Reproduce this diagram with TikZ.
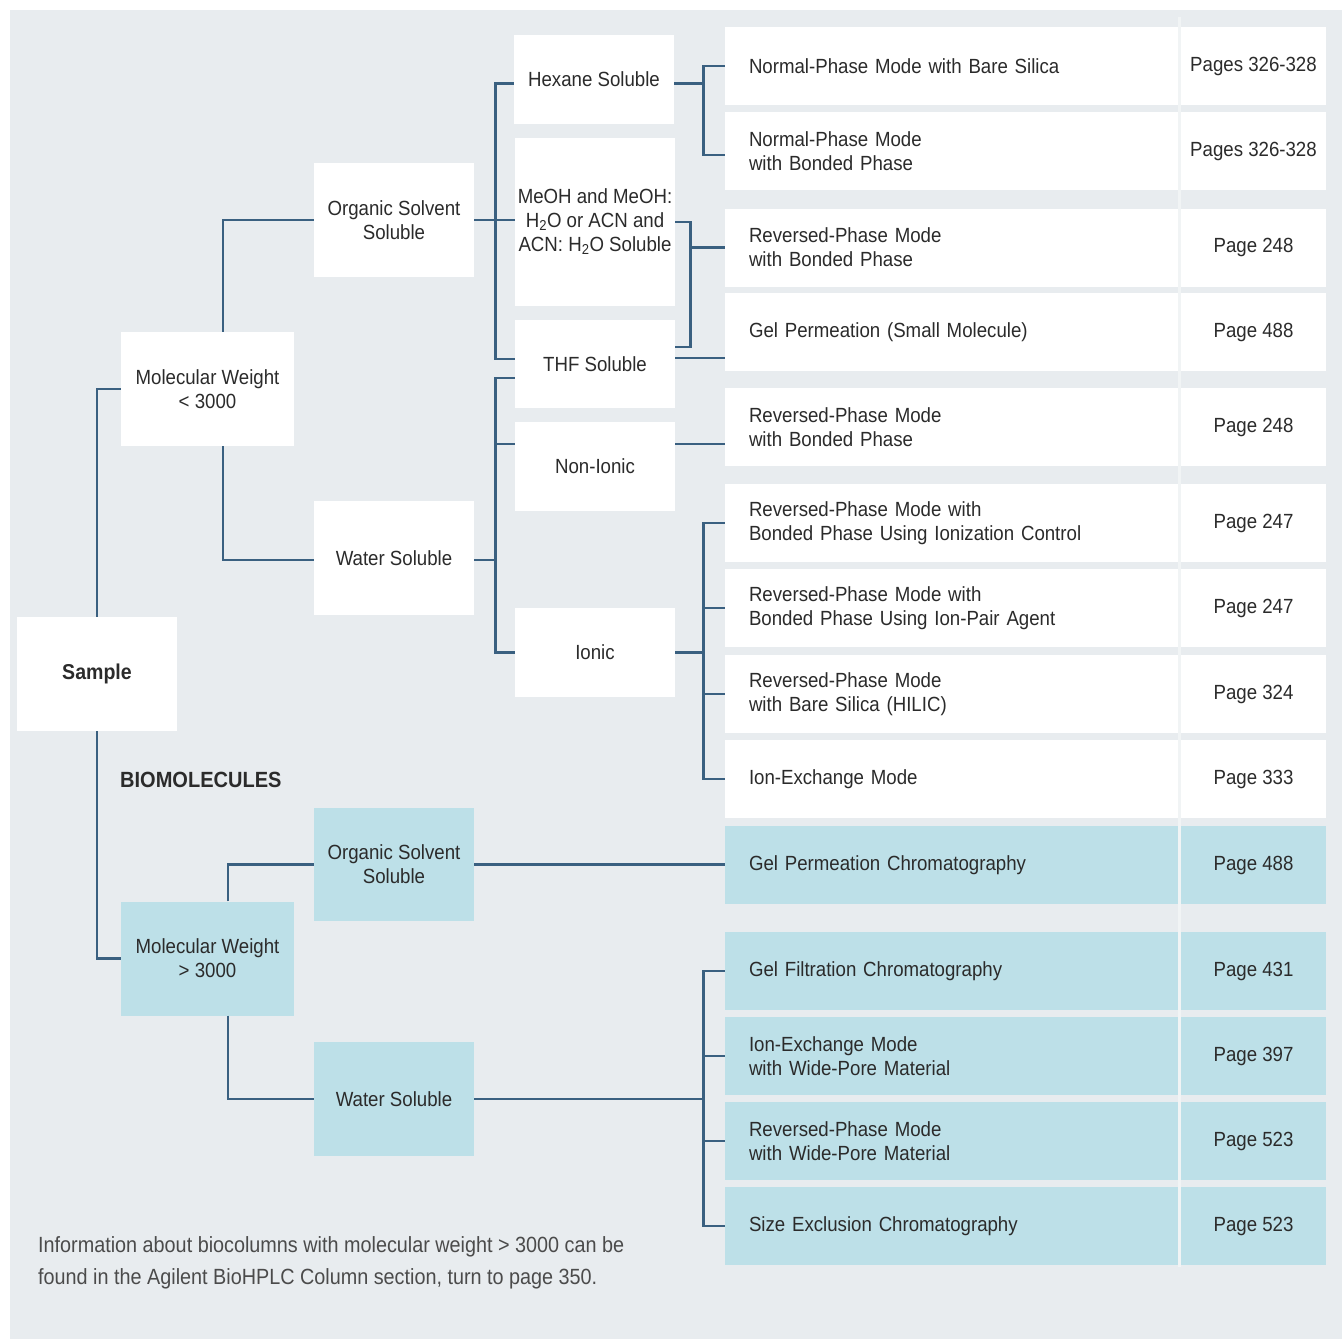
\documentclass[tikz,border=0pt]{standalone}
\usepackage{fontspec}
\setmainfont{Liberation Sans}[FakeStretch=0.91]
\newfontfamily\notefont{Liberation Sans}[FakeStretch=0.9]
\definecolor{panel}{HTML}{E8ECEF}
\definecolor{paleblue}{HTML}{BDE0E8}
\definecolor{linkblue}{HTML}{3A6080}
\definecolor{ink}{HTML}{2B2B2B}
\tikzset{
 box/.style={fill=white, text=ink, align=center, inner sep=0pt, minimum width=160pt, font=\fontsize{20.5}{24}\selectfont},
 mode/.style={box, text width=405pt, inner xsep=24pt, minimum height=78pt, align=left},
 page/.style={box, minimum width=145pt, minimum height=78pt},
 link/.style={draw=linkblue, line width=2.8pt},
}
\newcommand{\methodrow}[5]{%
 \node[mode,fill=#5] (#1) at (951.5,#2) {#3};%
 \node[page,fill=#5] (#1p) at (1253.5,#2) {#4};%
}
\begin{document}
\begin{tikzpicture}[x=1pt,y=-1pt]
  \useasboundingbox[fill=white] (0,0) rectangle (1342,1339);
  \fill[panel] (10,10) rectangle (1342,1339);
  \draw[panel!60!white,line width=3pt] (1179.5,17) -- (1179.5,1267);
  % sample tree
  \node[box,minimum width=160pt,minimum height=114pt,font=\fontsize{21.5}{24}\selectfont\bfseries] (sample) at (97,674) {Sample};
  \node[box,minimum width=173pt,minimum height=114pt] (mwlow) at (207.5,389) {Molecular Weight\\< 3000};
  \node[box,minimum height=114pt] (oslow) at (394,220) {Organic Solvent\\Soluble};
  \node[box,minimum height=114pt] (wslow) at (394,558) {Water Soluble};
  \node[box,minimum height=89pt] (hex) at (594,79.5) {Hexane Soluble};
  \node[box,minimum height=168pt] (meoh) at (595,222) {MeOH and MeOH:\\H\textsubscript{2}O or ACN and\\ACN: H\textsubscript{2}O Soluble};
  \node[box,minimum height=88pt] (thf) at (595,364) {THF Soluble};
  \node[box,minimum height=89pt] (nonionic) at (595,466.5) {Non-Ionic};
  \node[box,minimum height=89pt] (ionic) at (595,652.5) {Ionic};
  % biomolecules
  \node[anchor=west,inner sep=0pt,text=ink,font=\fontsize{22}{24}\selectfont\bfseries] (bio) at (120,780) {BIOMOLECULES};
  \node[box,fill=paleblue,minimum width=173pt,minimum height=114pt] (mwhigh) at (207.5,958.5) {Molecular Weight\\> 3000};
  \node[box,fill=paleblue,minimum height=113pt] (osbio) at (394,864.5) {Organic Solvent\\Soluble};
  \node[box,fill=paleblue,minimum height=114pt] (wsbio) at (394,1099) {Water Soluble};
  % methods and pages
  \methodrow{r1}{66}{Normal-Phase Mode with Bare Silica}{Pages 326-328}{white}
  \methodrow{r2}{151}{Normal-Phase Mode\\with Bonded Phase}{Pages 326-328}{white}
  \methodrow{r3}{247.5}{Reversed-Phase Mode\\with Bonded Phase}{Page 248}{white}
  \methodrow{r4}{332}{Gel Permeation (Small Molecule)}{Page 488}{white}
  \methodrow{r5}{427}{Reversed-Phase Mode\\with Bonded Phase}{Page 248}{white}
  \methodrow{r6}{523}{Reversed-Phase Mode with\\Bonded Phase Using Ionization Control}{Page 247}{white}
  \methodrow{r7}{608}{Reversed-Phase Mode with\\Bonded Phase Using Ion-Pair Agent}{Page 247}{white}
  \methodrow{r8}{694}{Reversed-Phase Mode\\with Bare Silica (HILIC)}{Page 324}{white}
  \methodrow{r9}{779}{Ion-Exchange Mode}{Page 333}{white}
  \methodrow{r10}{865}{Gel Permeation Chromatography}{Page 488}{paleblue}
  \methodrow{r11}{971}{Gel Filtration Chromatography}{Page 431}{paleblue}
  \methodrow{r12}{1056}{Ion-Exchange Mode\\with Wide-Pore Material}{Page 397}{paleblue}
  \methodrow{r13}{1141}{Reversed-Phase Mode\\with Wide-Pore Material}{Page 523}{paleblue}
  \methodrow{r14}{1226}{Size Exclusion Chromatography}{Page 523}{paleblue}
  \node[anchor=north west,inner sep=0pt,align=left,text=ink!85,font=\notefont\fontsize{22}{32}\selectfont] (note) at (38,1236) {Information about biocolumns with molecular weight > 3000 can be\\found in the Agilent BioHPLC Column section, turn to page 350.};
  % connectors
  \draw[link] (sample.north) |- (mwlow.west);
  \draw[link] (sample.south) |- (mwhigh.west);
  \draw[link] ([xshift=15.5pt]mwlow.north) |- (oslow.west);
  \draw[link] ([xshift=15.5pt]mwlow.south) |- ([yshift=-2pt]wslow.west);
  \draw[link] (oslow.east) -- (oslow.east -| meoh.west);
  \draw[link] ([yshift=-4pt]hex.west) -- ++(-18,0) |- ([yshift=5pt]thf.west);
  \draw[link] ([yshift=-2pt]wslow.east) -- ++(22,0);
  \draw[link] ([yshift=-14pt]thf.west) -- ++(-19,0) |- (ionic.west);
  \draw[link] ([yshift=22.5pt]nonionic.west) -- ++(-19,0);
  \draw[link] ([yshift=-4pt]hex.east) -- ++(30,0);
  \draw[link] (r1.west) -- ++(-21,0) |- ([yshift=-4pt]r2.west);
  \draw[link] (meoh.east) -- ++(15,0) |- ([yshift=17pt]thf.east);
  \draw[link] (r3.west) -- ++(-35,0);
  \draw[link] ([yshift=6pt]thf.east) -- ([yshift=6pt]thf.east -| r4.west);
  \draw[link] ([yshift=22.5pt]nonionic.east) -- ([yshift=22.5pt]nonionic.east -| r5.west);
  \draw[link] (ionic.east) -- ++(29,0);
  \draw[link] (r6.west) -- ++(-21,0) |- (r9.west);
  \draw[link] (r7.west) -- ++(-21,0);
  \draw[link] (r8.west) -- ++(-21,0);
  \draw[link] ([xshift=20.5pt]mwhigh.north) |- (osbio.west);
  \draw[link] ([xshift=20.5pt]mwhigh.south) |- (wsbio.west);
  \draw[link] (osbio.east) -- (osbio.east -| r10.west);
  \draw[link] (wsbio.east) -- ++(230,0);
  \draw[link] (r11.west) -- ++(-21,0) |- (r14.west);
  \draw[link] (r12.west) -- ++(-21,0);
  \draw[link] (r13.west) -- ++(-21,0);
\end{tikzpicture}
\end{document}
